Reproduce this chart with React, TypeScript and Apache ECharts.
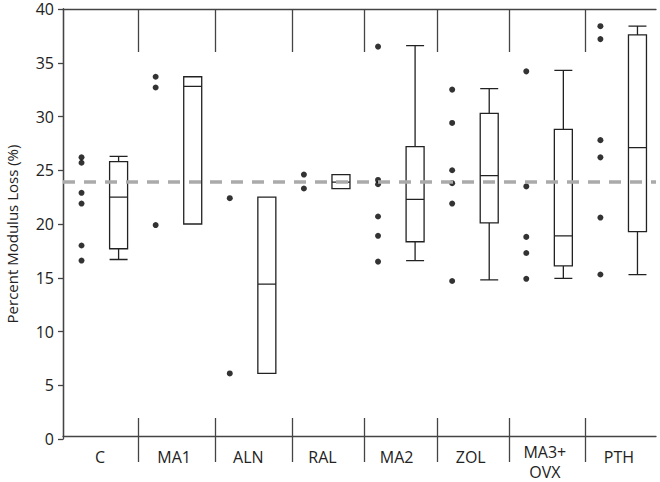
import React, { useEffect, useRef } from "react";
import * as echarts from "echarts";

const groups = ["C", "MA1", "ALN", "RAL", "MA2", "ZOL", "MA3+\nOVX", "PTH"];

// individual measurements per group
const pointsC = [26.2, 25.7, 22.9, 21.9, 18.0, 16.6];
const pointsMA1 = [33.7, 32.7, 19.9];
const pointsALN = [22.4, 6.1];
const pointsRAL = [24.6, 23.3];
const pointsMA2 = [36.5, 24.1, 23.7, 20.7, 18.9, 16.5];
const pointsZOL = [32.5, 29.4, 25.0, 23.8, 21.9, 14.7];
const pointsMA3OVX = [34.2, 23.5, 18.8, 17.3, 14.9];
const pointsPTH = [38.4, 37.2, 27.8, 26.2, 20.6, 15.3];

// box stats: [min, Q1, median, Q3, max]
const boxC = [16.7, 17.7, 22.5, 25.8, 26.3];
const boxMA1 = [20.0, 20.0, 32.8, 33.7, 33.7];
const boxALN = [6.1, 6.1, 14.4, 22.5, 22.5];
const boxRAL = [23.3, 23.3, 23.9, 24.6, 24.6];
const boxMA2 = [16.6, 18.35, 22.3, 27.2, 36.6];
const boxZOL = [14.8, 20.1, 24.5, 30.3, 32.6];
const boxMA3OVX = [14.95, 16.1, 18.9, 28.8, 34.3];
const boxPTH = [15.3, 19.3, 27.1, 37.6, 38.4];

const referenceLine = 23.9;
const yTicks = [0, 5, 10, 15, 20, 25, 30, 35, 40];
// group separator positions, in group units along the x axis
const separatorPositions = [1.01, 2.06, 3.09, 4.06, 5.05, 6.02, 7.04];

const allPoints = [pointsC, pointsMA1, pointsALN, pointsRAL, pointsMA2, pointsZOL, pointsMA3OVX, pointsPTH];
const allBoxes = [boxC, boxMA1, boxALN, boxRAL, boxMA2, boxZOL, boxMA3OVX, boxPTH];

const FONT = "Open Sans";
const AXIS_COLOR = "#444";
const TEXT_COLOR = "#222";

export default function App() {
  const ref = useRef<HTMLDivElement>(null);
  useEffect(() => {
    document.body.style.margin = "0";
    if (!ref.current) return;
    const chart = echarts.init(ref.current, undefined, { renderer: "svg" });
    const slots = groups.flatMap((g, i) => ["pts" + i, "box" + i]);
    const scatterData: any[] = [];
    allPoints.forEach((arr, i) => arr.forEach((v) => scatterData.push([2 * i, v])));
    const boxData = allBoxes.map((b, i) => [2 * i + 1, ...b]);
    const categoryData = groups.map((g) =>
      g.includes("\n") ? { value: g, textStyle: { lineHeight: 20 } } : g
    );
    const gridRect = { left: 63, top: 9, width: 593, height: 430, containLabel: false };
    const hiddenY = (gridIndex: number) => ({
      type: "value",
      gridIndex,
      min: 0,
      max: 40,
      show: false,
    });
    const tickStyle = { color: AXIS_COLOR, width: 1.3 };
    const option: any = {
      animation: false,
      grid: [gridRect, gridRect, gridRect, gridRect],
      xAxis: [
        {
          type: "category",
          gridIndex: 0,
          data: slots,
          show: false,
          boundaryGap: true,
        },
        {
          type: "category",
          gridIndex: 1,
          position: "bottom",
          data: categoryData,
          boundaryGap: true,
          axisLine: { show: true, lineStyle: tickStyle },
          axisTick: { show: false },
          axisLabel: {
            interval: 0,
            margin: 6,
            fontFamily: FONT,
            fontSize: 16,
            lineHeight: 29,
            color: TEXT_COLOR,
          },
        },
        {
          type: "value",
          gridIndex: 1,
          position: "top",
          min: 0,
          max: 8,
          interval: 1,
          axisLine: { show: true, lineStyle: tickStyle },
          axisTick: {
            show: true,
            inside: true,
            length: 43,
            customValues: separatorPositions,
            lineStyle: tickStyle,
          },
          axisLabel: { show: false },
          splitLine: { show: false },
        },
        {
          type: "value",
          gridIndex: 2,
          position: "bottom",
          min: 0,
          max: 8,
          interval: 1,
          axisLine: { show: false },
          axisTick: {
            show: true,
            inside: false,
            length: 23,
            customValues: separatorPositions,
            lineStyle: tickStyle,
          },
          axisLabel: { show: false },
          splitLine: { show: false },
        },
        {
          type: "value",
          gridIndex: 3,
          position: "bottom",
          min: 0,
          max: 8,
          interval: 1,
          axisLine: { show: false },
          axisTick: {
            show: true,
            inside: true,
            length: 21,
            customValues: separatorPositions,
            lineStyle: tickStyle,
          },
          axisLabel: { show: false },
          splitLine: { show: false },
        },
      ],
      yAxis: [
        {
          type: "value",
          gridIndex: 0,
          min: 0,
          max: 40,
          interval: 5,
          axisLine: { show: true, lineStyle: tickStyle },
          axisTick: { show: true, length: 5, lineStyle: tickStyle },
          axisLabel: {
            margin: 9,
            fontFamily: FONT,
            fontSize: 16,
            lineHeight: 12,
            color: TEXT_COLOR,
            formatter: (v: number) => (yTicks.includes(v) ? String(v) : ""),
          },
          splitLine: { show: false },
        },
        {
          type: "value",
          gridIndex: 1,
          position: "right",
          min: 0,
          max: 40,
          axisLine: { show: true, lineStyle: tickStyle },
          axisTick: { show: false },
          axisLabel: { show: false },
          splitLine: { show: false },
        },
        hiddenY(2),
        hiddenY(3),
      ],
      graphic: [
        {
          type: "text",
          x: 12,
          y: 234,
          rotation: Math.PI / 2,
          style: {
            text: "Percent Modulus Loss (%)",
            fontFamily: FONT,
            fontSize: 15,
            fill: TEXT_COLOR,
            textAlign: "center",
            textVerticalAlign: "middle",
          },
        },
      ],
      series: [
        {
          type: "boxplot",
          xAxisIndex: 0,
          yAxisIndex: 0,
          data: boxData,
          encode: { x: 0, y: [1, 2, 3, 4, 5] },
          boxWidth: [18, 18],
          itemStyle: { color: "#fff", borderColor: "#222", borderWidth: 1.3 },
          silent: true,
          z: 2,
        },
        {
          type: "scatter",
          xAxisIndex: 0,
          yAxisIndex: 0,
          data: scatterData,
          symbol: "circle",
          symbolSize: 6,
          itemStyle: { color: "#000" },
          silent: true,
          z: 3,
          markLine: {
            silent: true,
            symbol: ["none", "none"],
            label: { show: false },
            lineStyle: { type: [12, 9], color: "#aaa", width: 3.5 },
            data: [{ yAxis: referenceLine }],
            z: 4,
          },
        },
      ],
    };
    chart.setOption(option);
    return () => chart.dispose();
  }, []);
  return <div ref={ref} style={{ width: 660, height: 482 }} />;
}
